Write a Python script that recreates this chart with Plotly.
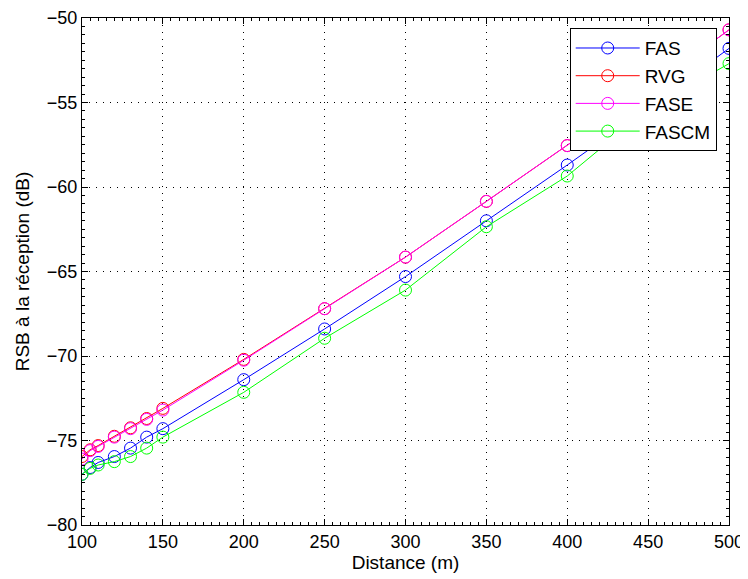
import plotly.graph_objects as go

distance = [100, 105, 110, 120, 130, 140, 150, 200, 250, 300, 350, 400, 450, 500]
fas   = [-77.0, -76.6, -76.3, -75.95, -75.45, -74.8, -74.3, -71.4, -68.4, -65.3, -62.0, -58.7, -55.3, -51.8]
rvg   = [-75.95, -75.55, -75.3, -74.75, -74.25, -73.7, -73.1, -70.2, -67.2, -64.15, -60.85, -57.55, -54.2, -50.7]
fase  = [-76.1, -75.6, -75.35, -74.8, -74.3, -73.75, -73.2, -70.25, -67.2, -64.15, -60.85, -57.55, -54.2, -50.7]
fascm = [-77.0, -76.65, -76.45, -76.25, -75.95, -75.45, -74.8, -72.15, -68.95, -66.1, -62.35, -59.35, -55.4, -52.7]

series = [("FAS", fas, "#0000ff"), ("RVG", rvg, "#ff0000"),
          ("FASE", fase, "#ff00ff"), ("FASCM", fascm, "#00ff00")]

fig = go.Figure()
for name, vals, col in series:
    fig.add_trace(go.Scatter(
        x=distance, y=vals, name=name, mode="lines+markers",
        line=dict(color=col, width=1),
        marker=dict(symbol="circle-open", size=12, color=col, line=dict(width=1, color=col)),
    ))

FONT = "Liberation Sans, Arial"
axis_common = dict(
    showline=True, linecolor="black", linewidth=1, mirror="ticks",
    ticks="inside", ticklen=6, tickcolor="black",
    showgrid=True, gridcolor="black", gridwidth=1, griddash="1px,6px",
    zeroline=False, automargin=False,
    tickfont=dict(family=FONT, size=18, color="black"),
)

fig.update_xaxes(range=[100, 500], dtick=50, tick0=100,
                 title=dict(text="Distance (m)", font=dict(family=FONT, size=19, color="black"), standoff=3),
                 minor=dict(dtick=5, ticks="inside", ticklen=3, tickcolor="black", showgrid=False),
                 **axis_common)
fig.update_yaxes(range=[-80, -50], dtick=5, tick0=-80,
                 title=dict(text="RSB à la réception (dB)", font=dict(family=FONT, size=19, color="black"), standoff=12),
                 minor=dict(dtick=0.5, ticks="inside", ticklen=3, tickcolor="black", showgrid=False),
                 **axis_common)

fig.update_layout(
    width=748, height=579,
    margin=dict(l=74, r=27, t=10, b=62),
    paper_bgcolor="white", plot_bgcolor="white",
    legend=dict(x=0.981, y=0.98, xanchor="right", yanchor="top",
                bgcolor="white", bordercolor="black", borderwidth=1,
                font=dict(family=FONT, size=19, color="black"),
                tracegroupgap=0, itemwidth=64),
    showlegend=True,
)

fig.write_html("out.html")
